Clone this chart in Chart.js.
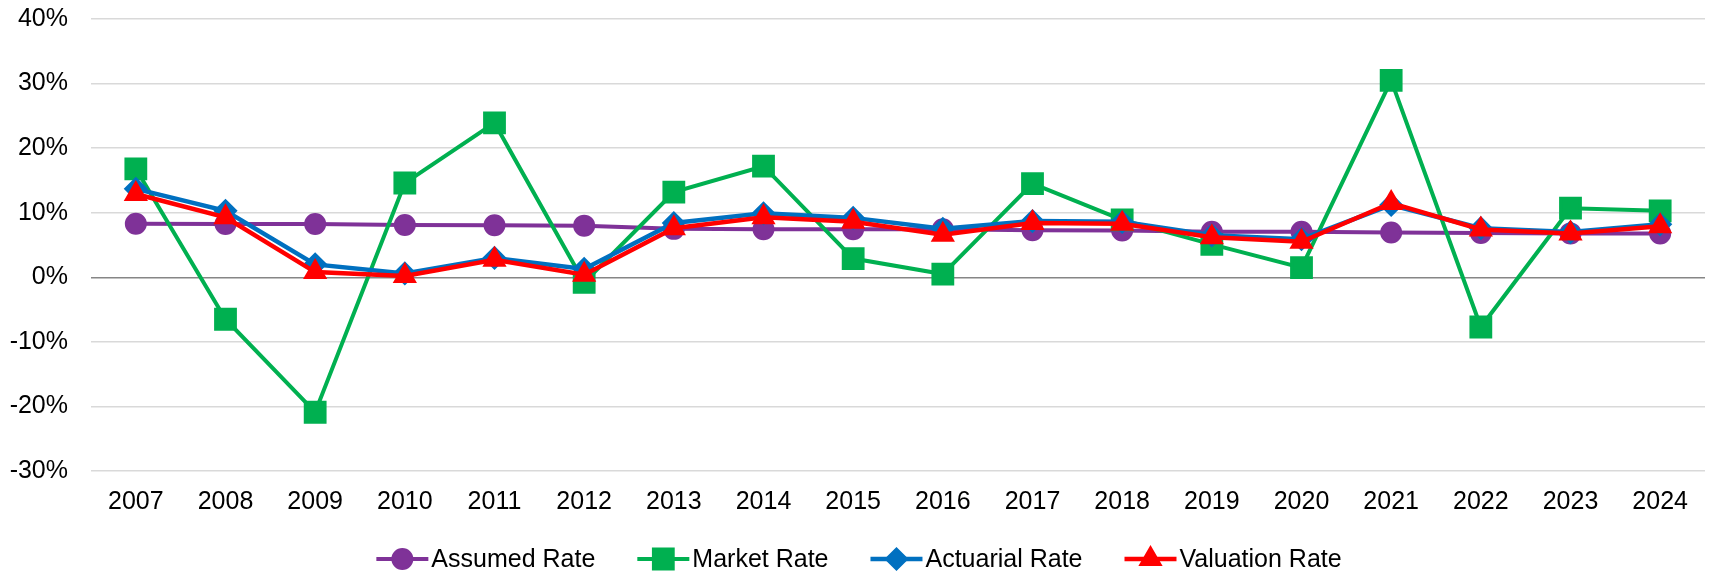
<!DOCTYPE html>
<html>
<head>
<meta charset="utf-8">
<script src="https://cdn.jsdelivr.net/npm/chart.js@4/dist/chart.umd.min.js"></script>
<style>
  html, body { margin: 0; padding: 0; background: #ffffff; }
  #wrap { width: 1722px; height: 576px; position: relative; }
</style>
</head>
<body>
<div id="wrap"><canvas id="c"></canvas></div>
<script>
const years = ['2007','2008','2009','2010','2011','2012','2013','2014','2015','2016','2017','2018','2019','2020','2021','2022','2023','2024'];
const assumedRate   = [8.3, 8.25, 8.25, 8.1, 8.05, 8.0, 7.5, 7.45, 7.45, 7.45, 7.3, 7.25, 7.05, 7.05, 6.95, 6.85, 6.8, 6.8];
const marketRate    = [16.8, -6.5, -20.9, 14.6, 23.9, -0.8, 13.2, 17.2, 2.9, 0.5, 14.5, 8.9, 5.1, 1.5, 30.5, -7.7, 10.7, 10.3];
const actuarialRate = [13.7, 10.3, 2.0, 0.6, 3.0, 1.3, 8.4, 9.9, 9.2, 7.5, 8.7, 8.6, 6.5, 5.9, 11.2, 7.6, 7.0, 8.2];
const valuationRate = [12.9, 9.3, 0.8, 0.2, 2.7, 0.4, 7.6, 9.3, 8.6, 6.6, 8.4, 8.3, 6.2, 5.5, 11.5, 7.4, 6.8, 7.9];
const seriesNames = ['Assumed Rate', 'Market Rate', 'Actuarial Rate', 'Valuation Rate'];
const yMin = -30, yMax = 40, yStep = 10;

const FONT = '"Liberation Sans", Arial, sans-serif';
const FS = 25;

const legendPlugin = {
  id: 'lineLegend',
  afterDraw(chart) {
    const ctx = chart.ctx;
    const y = 559;
    const lineLen = 52, textGap = 3, itemGap = 42;
    ctx.save();
    ctx.font = FS + 'px ' + FONT;
    const items = chart.data.datasets.map(ds => ({ds, w: lineLen + textGap + ctx.measureText(ds.label).width}));
    const total = items.reduce((s, it) => s + it.w, 0) + itemGap * (items.length - 1);
    let x = (chart.width - total) / 2 - 2;
    items.forEach(({ds, w}) => {
      ctx.strokeStyle = ds.borderColor;
      ctx.lineWidth = ds.borderWidth;
      ctx.beginPath();
      ctx.moveTo(x, y);
      ctx.lineTo(x + lineLen, y);
      ctx.stroke();
      ctx.fillStyle = ds.pointBackgroundColor;
      ctx.strokeStyle = ds.pointBorderColor;
      ctx.lineWidth = ds.pointBorderWidth;
      Chart.helpers.drawPoint(ctx, {pointStyle: ds.pointStyle, radius: ds.pointRadius, rotation: 0, borderWidth: ds.pointBorderWidth}, x + lineLen / 2, y);
      ctx.fillStyle = '#000000';
      ctx.textBaseline = 'middle';
      ctx.textAlign = 'left';
      ctx.fillText(ds.label, x + lineLen + textGap, y + 1);
      x += w + itemGap;
    });
    ctx.restore();
  }
};

function mk(label, data, color, style, radius, bw, lw, order) {
  return {
    label, data, order,
    borderColor: color, backgroundColor: color,
    borderWidth: lw,
    pointStyle: style, pointRadius: radius, pointHoverRadius: radius,
    pointBackgroundColor: color, pointBorderColor: color, pointBorderWidth: bw,
    tension: 0, fill: false
  };
}

new Chart(document.getElementById('c'), {
  type: 'line',
  data: {
    labels: years,
    datasets: [
      mk(seriesNames[0], assumedRate, '#7F3298', 'circle', 10, 2, 4, 3),
      mk(seriesNames[1], marketRate, '#00B050', 'rect', 14, 3, 4, 2),
      mk(seriesNames[2], actuarialRate, '#0070C0', 'rectRot', 10, 3, 4.5, 1),
      mk(seriesNames[3], valuationRate, '#FF0000', 'triangle', 11, 3, 4.5, 0)
    ]
  },
  options: {
    responsive: true,
    maintainAspectRatio: false,
    animation: false,
    devicePixelRatio: 1,
    layout: { padding: { left: 0, right: 2, top: 19, bottom: 65 } },
    plugins: { legend: { display: false }, tooltip: { enabled: false } },
    scales: {
      x: {
        type: 'category',
        offset: true,
        grid: { display: false, drawTicks: false },
        border: { display: false },
        ticks: { color: '#000000', font: { family: FONT, size: FS }, padding: 16, maxRotation: 0, autoSkip: false },
        afterFit(scale) { scale.height = 40; scale.paddingLeft = 0; scale.paddingRight = 0; }
      },
      y: {
        min: yMin, max: yMax,
        grid: {
          drawTicks: false,
          color: ctx => ctx.tick && ctx.tick.value === 0 ? '#868686' : '#D9D9D9',
          lineWidth: 1.5
        },
        border: { display: false },
        ticks: {
          stepSize: yStep,
          color: '#000000',
          font: { family: FONT, size: FS },
          padding: 23,
          callback: v => v + '%'
        },
        afterFit(scale) { scale.width = 91; scale.paddingTop = 0; scale.paddingBottom = 0; }
      }
    }
  },
  plugins: [legendPlugin]
});
</script>
</body>
</html>
